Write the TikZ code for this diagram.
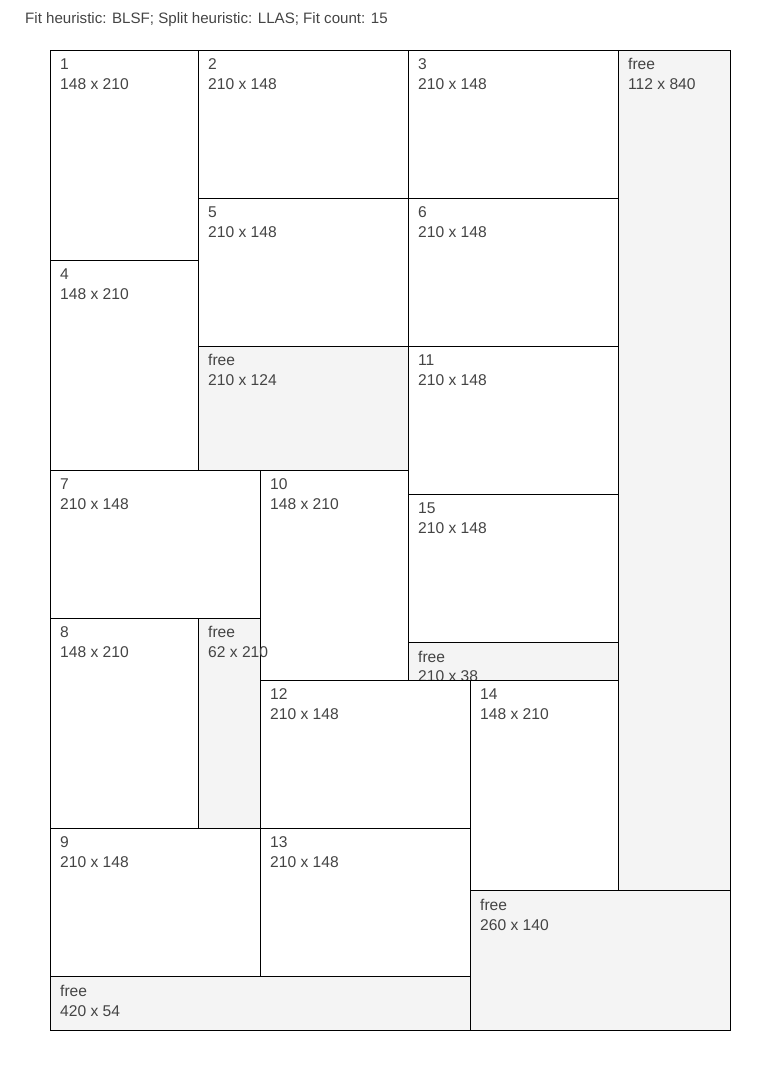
\documentclass[tikz,border=0pt]{standalone}
\usepackage{fontspec}
\setmainfont{Liberation Sans}
\usepackage{tikz}
\definecolor{freegray}{HTML}{F4F4F4}
\definecolor{labelgray}{HTML}{444444}

\begin{document}
\begin{tikzpicture}[x=1pt, y=-1pt,
  item/.style={draw=black, fill=white, line width=1pt},
  freebox/.style={draw=black, fill=freegray, line width=1pt},
  lbl/.style={anchor=north west, inner sep=0pt, align=left, text=labelgray,
              font=\fontsize{15.6}{20}\selectfont},
  head/.style={anchor=west, inner sep=0pt, text=labelgray,
               font=\fontsize{15.1}{18}\selectfont}
]
\useasboundingbox (0,0) rectangle (780,1080);

% Header line
\node[head] (title) at (25,20) {Fit heuristic: BLSF; Split heuristic: LLAS; Fit count: 15};

% Placed items and free space, in drawing order
\foreach \n/\s/\t/\x/\y/\w/\h in {
  r1/item/1/0/0/148/210, r2/item/2/148/0/210/148, r3/item/3/358/0/210/148,
  r4/item/4/0/210/148/210, r5/item/5/148/148/210/148, r6/item/6/358/148/210/148,
  r7/item/7/0/420/210/148, r8/item/8/0/568/148/210, r9/item/9/0/778/210/148,
  r10/item/10/210/420/148/210, fa/freebox/free/148/568/62/210,
  r11/item/11/358/296/210/148, fb/freebox/free/148/296/210/124,
  r15/item/15/358/444/210/148, fc/freebox/free/358/592/210/38,
  r12/item/12/210/630/210/148, r13/item/13/210/778/210/148,
  r14/item/14/420/630/148/210, fd/freebox/free/568/0/112/840,
  fe/freebox/free/420/840/260/140, ff/freebox/free/0/926/420/54}{
  \draw[\s] (50+\x,50+\y) rectangle ++(\w,\h);
  \node[lbl] (\n) at (60+\x,58.5+\y) {\t\\\w{} x \h};
}
\end{tikzpicture}
\end{document}
